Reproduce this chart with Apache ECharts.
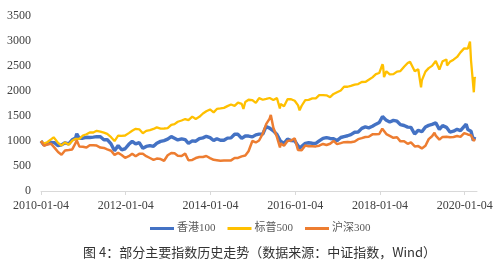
<!DOCTYPE html>
<html>
<head>
<meta charset="utf-8">
<script src="https://cdn.jsdelivr.net/npm/echarts@6/dist/echarts.min.js"></script>
<style>
html,body{margin:0;padding:0;background:#fff;}
#c{width:500px;height:264px;}
</style>
</head>
<body>
<div id="c"></div>
<script>
// Month-end dates (first entry: base date 2010-01-04)
const months = [
"2010-01-04",
"2010-01-29","2010-02-26","2010-03-31","2010-04-30","2010-05-31","2010-06-30","2010-07-30","2010-08-31","2010-09-30","2010-10-29","2010-11-30","2010-12-31",
"2011-01-31","2011-02-28","2011-03-31","2011-04-29","2011-05-31","2011-06-30","2011-07-29","2011-08-31","2011-09-30","2011-10-31","2011-11-30","2011-12-30",
"2012-01-31","2012-02-29","2012-03-30","2012-04-30","2012-05-31","2012-06-29","2012-07-31","2012-08-31","2012-09-28","2012-10-31","2012-11-30","2012-12-31",
"2013-01-31","2013-02-28","2013-03-28","2013-04-30","2013-05-31","2013-06-28","2013-07-31","2013-08-30","2013-09-30","2013-10-31","2013-11-29","2013-12-31",
"2014-01-31","2014-02-28","2014-03-31","2014-04-30","2014-05-30","2014-06-30","2014-07-31","2014-08-29","2014-09-30","2014-10-31","2014-11-28","2014-12-31",
"2015-01-30","2015-02-27","2015-03-31","2015-04-30","2015-05-29","2015-06-30","2015-07-31","2015-08-31","2015-09-30","2015-10-30","2015-11-30","2015-12-31",
"2016-01-29","2016-02-29","2016-03-31","2016-04-29","2016-05-31","2016-06-30","2016-07-29","2016-08-31","2016-09-30","2016-10-31","2016-11-30","2016-12-30",
"2017-01-31","2017-02-28","2017-03-31","2017-04-28","2017-05-31","2017-06-30","2017-07-31","2017-08-31","2017-09-29","2017-10-31","2017-11-30","2017-12-29",
"2018-01-31","2018-02-28","2018-03-29","2018-04-30","2018-05-31","2018-06-29","2018-07-31","2018-08-31","2018-09-28","2018-10-31","2018-11-30","2018-12-31",
"2019-01-31","2019-02-28","2019-03-29","2019-04-30","2019-05-31","2019-06-28","2019-07-31","2019-08-30","2019-09-30","2019-10-31","2019-11-29","2019-12-31",
"2020-01-31","2020-02-28","2020-03-31"
];

// 香港100 (monthly)
const hkValues = [
1000,
922,944,973,967,906,922,964,941,1025,1058,1054,1056,
1074,1069,1078,1087,1085,1026,1028,941,806,910,824,845,
934,993,942,967,854,891,907,893,955,992,1009,1038,
1087,1055,1022,1042,1026,953,1003,996,1047,1063,1094,1068,
1010,1046,1015,1014,1058,1063,1134,1134,1051,1100,1099,1082,
1123,1137,1141,1289,1257,1203,1129,993,955,1037,1008,1004,
902,876,952,965,954,953,1003,1053,1068,1051,1044,1008,
1070,1088,1105,1128,1176,1181,1252,1282,1263,1294,1337,1371,
1460,1413,1379,1412,1396,1327,1310,1278,1273,1145,1215,1184,
1280,1312,1331,1361,1233,1308,1273,1179,1196,1233,1207,1292,
1230,1197,1082
];
const hkExtraDates  = ["2010-07-05","2010-11-08","2011-10-04","2015-04-28","2016-02-12","2018-01-26","2018-10-30","2020-01-17","2020-03-19","2020-04-03"];
const hkExtraValues = [895,1144,790,1290,860,1490,1140,1335,1010,1085];

// 标普500 (monthly)
const spxValues = [
1000,
948,975,1032,1047,962,910,972,926,1007,1044,1042,1110,
1135,1171,1170,1204,1187,1166,1141,1076,999,1106,1101,1110,
1158,1205,1243,1234,1156,1202,1217,1241,1272,1246,1250,1259,
1322,1337,1385,1410,1439,1418,1488,1441,1484,1550,1594,1631,
1573,1641,1652,1663,1698,1730,1704,1768,1741,1781,1825,1817,
1761,1857,1825,1841,1860,1821,1857,1741,1695,1835,1836,1804,
1712,1705,1818,1823,1851,1853,1918,1916,1914,1877,1941,1976,
2011,2086,2085,2104,2129,2139,2180,2182,2224,2273,2337,2360,
2492,2395,2331,2337,2388,2399,2486,2561,2572,2393,2436,2213,
2387,2458,2502,2600,2429,2596,2631,2583,2627,2681,2772,2852,
2847,2607,2281
];
const spxExtraDates  = ["2010-04-23","2010-07-02","2011-10-03","2014-10-15","2015-08-25","2016-02-11","2018-01-26","2018-02-08","2018-09-20","2018-12-24","2019-06-03","2019-08-05","2020-02-19","2020-03-23","2020-04-03"];
const spxExtraValues = [1074,902,970,1643,1649,1614,2535,2278,2586,2075,2416,2510,2988,1974,2250];

// 沪深300 (monthly)
const csiValues = [
1000,
906,928,946,868,779,725,811,821,831,958,892,885,
870,916,917,908,869,861,832,805,723,762,719,664,
697,745,694,743,745,696,660,623,649,638,605,714,
760,756,706,699,747,616,621,659,681,681,700,659,
623,616,607,611,610,612,661,661,693,709,794,1000,
971,1010,1146,1343,1449,1265,1079,952,906,1000,1009,1055,
833,814,910,893,896,892,906,941,920,944,1001,937,
958,977,978,973,988,1037,1057,1081,1085,1133,1133,1140,
1209,1138,1103,1063,1076,993,995,943,973,892,898,852,
906,1038,1095,1107,1027,1082,1085,1075,1079,1099,1083,1159,
1131,1115,1043
];
const csiExtraDates  = ["2010-07-02","2010-11-08","2015-06-08","2015-08-26","2016-01-28","2018-01-24","2019-01-03","2019-04-19","2020-01-14","2020-03-23","2020-04-03"];
const csiExtraValues = [730,1018,1522,870,820,1246,845,1165,1188,999,1050];

const xTickYears = [2010,2012,2014,2016,2018,2020];
const legendNames = ["香港100","标普500","沪深300"];
const captionText = "图 4：部分主要指数历史走势（数据来源：中证指数，Wind）";

function toYear(s){
  const p = s.split("-").map(Number);
  const t = Date.UTC(p[0],p[1]-1,p[2]);
  const base = Date.UTC(2010,0,4);
  return 2010 + (t-base)/(365.25*86400000);
}
function build(dates, vals, exD, exV){
  const pts = dates.map((d,i)=>[toYear(d), vals[i]]);
  exD.forEach((d,i)=>pts.push([toYear(d), exV[i]]));
  pts.sort((a,b)=>a[0]-b[0]);
  return pts;
}

const serif = "'Liberation Serif','Times New Roman','Noto Sans CJK SC',serif";
const chart = echarts.init(document.getElementById('c'), null, {renderer:'canvas'});
chart.setOption({
  animation:false,
  backgroundColor:'#fff',
  title:{
    text: captionText,
    left: 78, top: 241,
    textStyle:{fontSize:13,fontWeight:'normal',color:'#333',fontFamily:"'Noto Sans CJK SC','Liberation Serif',sans-serif"}
  },
  legend:{
    data: legendNames,
    left: 145, top: 218,
    icon:'rect', itemWidth:24, itemHeight:3, itemGap:12,
    textStyle:{fontSize:11,color:'#595959',fontFamily:serif, padding:[0,0,0,-2]}
  },
  grid:{left:41,right:23,top:16,bottom:73,containLabel:false},
  xAxis:{
    type:'value', min:2010, max:2020.29, interval:2,
    axisLine:{show:true,lineStyle:{color:'#d9d9d9',width:1}},
    axisTick:{show:true,length:4,lineStyle:{color:'#d9d9d9'},customValues:xTickYears},
    splitLine:{show:false},
    axisLabel:{customValues:xTickYears,margin:9,fontSize:12,color:'#404040',fontFamily:serif,
      formatter:v=>Math.round(v)+'-01-04'}
  },
  yAxis:{
    type:'value', min:0, max:3500, interval:500,
    axisLine:{show:false}, axisTick:{show:false}, splitLine:{show:false},
    axisLabel:{margin:10,fontSize:12,color:'#404040',fontFamily:serif,
      formatter:v=>String(v)}
  },
  series:[
    {name:legendNames[0],type:'line',showSymbol:false,symbol:'none',
     data:build(months,hkValues,hkExtraDates,hkExtraValues),
     itemStyle:{color:'#4472C4'},lineStyle:{color:'#4472C4',width:3.4}},
    {name:legendNames[1],type:'line',showSymbol:false,symbol:'none',
     data:build(months,spxValues,spxExtraDates,spxExtraValues),
     itemStyle:{color:'#FFC000'},lineStyle:{color:'#FFC000',width:2.3}},
    {name:legendNames[2],type:'line',showSymbol:false,symbol:'none',
     data:build(months,csiValues,csiExtraDates,csiExtraValues),
     itemStyle:{color:'#ED7D31'},lineStyle:{color:'#ED7D31',width:2.5}}
  ]
});
</script>
</body>
</html>
